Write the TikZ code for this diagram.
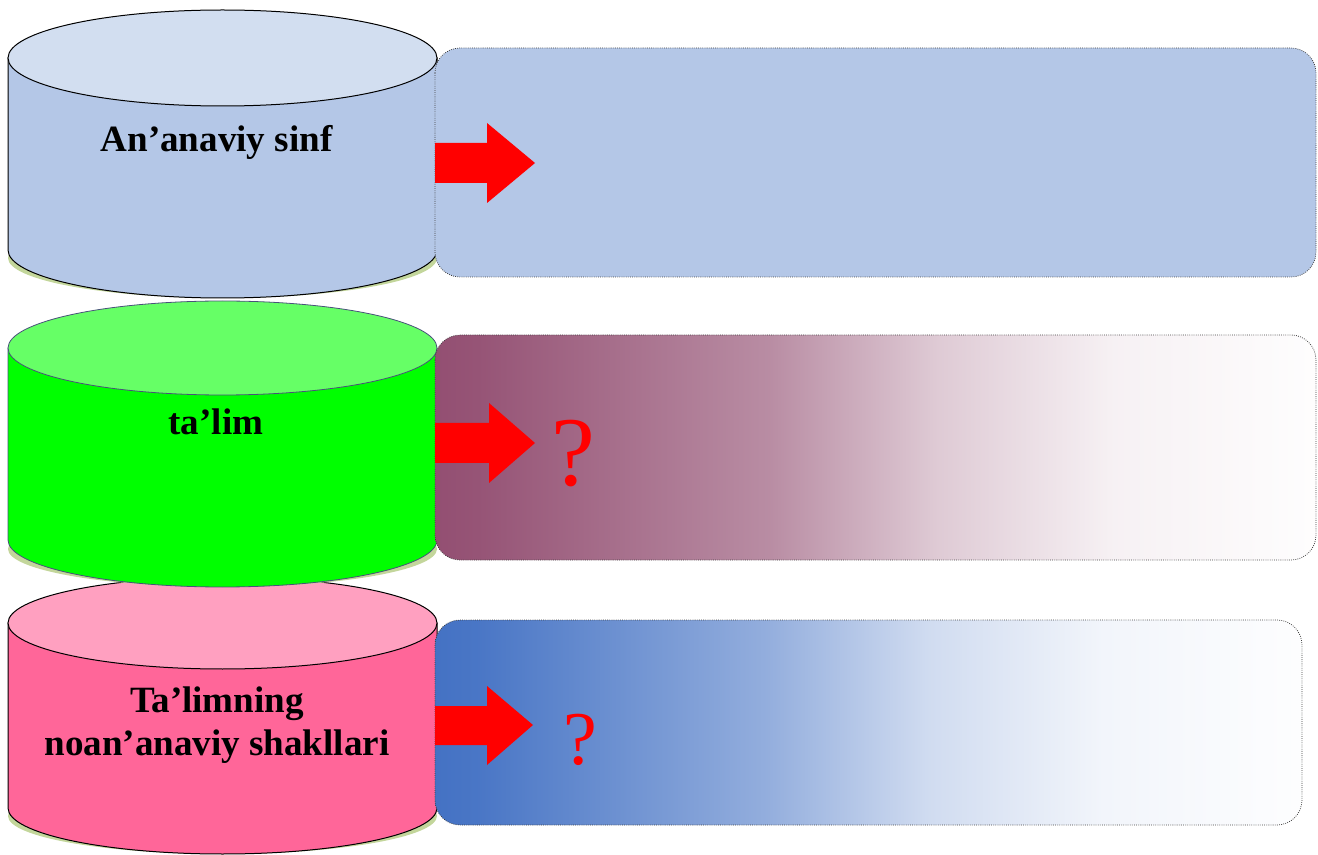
\documentclass[tikz,border=0pt]{standalone}
\usepackage{fontspec}
\setmainfont{Liberation Serif}

\definecolor{mauveleft}{RGB}{147,79,114}
\definecolor{blueleft}{RGB}{68,114,196}
\pgfdeclarehorizontalshading{mauvefade}{100bp}{color(0bp)=(mauveleft); color(25bp)=(mauveleft); color(27.5bp)=(mauveleft!97!white); color(44bp)=(mauveleft!65!white); color(53.5bp)=(mauveleft!30!white); color(63.5bp)=(mauveleft!8!white); color(75bp)=(mauveleft!1!white); color(100bp)=(white)}
\pgfdeclarehorizontalshading{bluefade}{100bp}{color(0bp)=(blueleft); color(25bp)=(blueleft); color(27.5bp)=(blueleft!97!white); color(44bp)=(blueleft!58!white); color(53.5bp)=(blueleft!25!white); color(63.5bp)=(blueleft!7!white); color(75bp)=(blueleft!1!white); color(100bp)=(white)}

\tikzset{every picture/.style={line width=0.75pt}}

\begin{document}
\begin{tikzpicture}[x=0.75pt,y=0.75pt,yscale=-1,xscale=1]
	\useasboundingbox (0,0) rectangle (1318,855);

	%Shape: Ellipse [id:shadow3] 
	\fill [color={rgb, 255:red, 195; green, 214; blue, 155 }] (222.5,816) ellipse (214.5 and 38);
	%Shape: Can [id:can3] 
	\draw  [fill={rgb, 255:red, 255; green, 102; blue, 153 }  ,fill opacity=1 ] (8,623) -- (8,808) .. controls (8,833.41) and (104.03,854) .. (222.5,854) .. controls (340.97,854) and (437,833.41) .. (437,808) -- (437,623) -- cycle ;
	\draw  [fill={rgb, 255:red, 255; green, 160; blue, 192 }  ,fill opacity=1 ] (222.5,623) ellipse (214.5 and 46);

	%Shape: Ellipse [id:shadow2] 
	\fill [color={rgb, 255:red, 195; green, 214; blue, 155 }] (222.5,549) ellipse (214.5 and 38);
	%Shape: Can [id:can2] 
	\draw  [draw={rgb, 255:red, 72; green, 82; blue, 122 }  ,line width=0.6pt ,fill={rgb, 255:red, 0; green, 255; blue, 0 }  ,fill opacity=1 ] (8,348) -- (8,540) .. controls (8,565.96) and (104.03,587) .. (222.5,587) .. controls (340.97,587) and (437,565.96) .. (437,540) -- (437,348) -- cycle ;
	\draw  [draw={rgb, 255:red, 72; green, 82; blue, 122 }  ,line width=0.6pt ,fill={rgb, 255:red, 102; green, 255; blue, 102 }  ,fill opacity=1 ] (222.5,348) ellipse (214.5 and 47);

	%Shape: Ellipse [id:shadow1] 
	\fill [color={rgb, 255:red, 195; green, 214; blue, 155 }] (222.5,258) ellipse (214.5 and 40);
	%Shape: Can [id:can1] 
	\draw  [fill={rgb, 255:red, 180; green, 199; blue, 231 }  ,fill opacity=1 ] (8,58) -- (8,250) .. controls (8,276.51) and (104.03,298) .. (222.5,298) .. controls (340.97,298) and (437,276.51) .. (437,250) -- (437,58) -- cycle ;
	\draw  [fill={rgb, 255:red, 210; green, 222; blue, 240 }  ,fill opacity=1 ] (222.5,58) ellipse (214.5 and 48);

	%Rounded Rect [id:box1] 
	\draw  [draw={rgb, 255:red, 64; green, 64; blue, 64 }  ,line width=0.6pt ,densely dotted ,fill={rgb, 255:red, 180; green, 199; blue, 231 }  ,fill opacity=1 ,rounded corners=18.75pt ] (435,48) rectangle (1316,277) ;
	%Rounded Rect [id:box2] 
	\draw  [draw={rgb, 255:red, 64; green, 64; blue, 64 }  ,line width=0.6pt ,densely dotted ,shading=mauvefade ,rounded corners=18.75pt ] (435,335) rectangle (1316,560) ;
	%Rounded Rect [id:box3] 
	\draw  [draw={rgb, 255:red, 64; green, 64; blue, 64 }  ,line width=0.6pt ,densely dotted ,shading=bluefade ,rounded corners=18.75pt ] (435,620) rectangle (1302,825) ;

	%Right Arrow [id:arrow1] 
	\fill  [color={rgb, 255:red, 255; green, 0; blue, 0 }  ] (435,143) -- (487,143) -- (487,123) -- (535,163) -- (487,203) -- (487,183) -- (435,183) -- cycle ;
	%Right Arrow [id:arrow2] 
	\fill  [color={rgb, 255:red, 255; green, 0; blue, 0 }  ] (435,423) -- (489,423) -- (489,403) -- (535,443) -- (489,483) -- (489,463) -- (435,463) -- cycle ;
	%Right Arrow [id:arrow3] 
	\fill  [color={rgb, 255:red, 255; green, 0; blue, 0 }  ] (435,706) -- (487,706) -- (487,686) -- (533,725) -- (487,765) -- (487,745) -- (435,745) -- cycle ;

	% Text Node
	\draw (216.5,152) node [anchor=base, font=\fontsize{27.8pt}{32.3pt}\selectfont\bfseries] (ananaviy) {An’anaviy sinf};
	% Text Node
	\draw (216,435) node [anchor=base, font=\fontsize{27.8pt}{32.3pt}\selectfont\bfseries] (talim) {ta’lim};
	% Text Node
	\draw (217,725) node [align=center, font=\fontsize{27.8pt}{32.3pt}\selectfont\bfseries] (shakllar) {Ta’limning\\noan’anaviy shakllari};
	% Text Node
	\draw (573,486) node [anchor=base, color={rgb, 255:red, 255; green, 0; blue, 0 }, font=\fontsize{74pt}{80pt}\selectfont] (savol2) {?};
	% Text Node
	\draw (580,764) node [anchor=base, color={rgb, 255:red, 255; green, 0; blue, 0 }, font=\fontsize{57pt}{62pt}\selectfont] (savol3) {?};

\end{tikzpicture}
\end{document}
